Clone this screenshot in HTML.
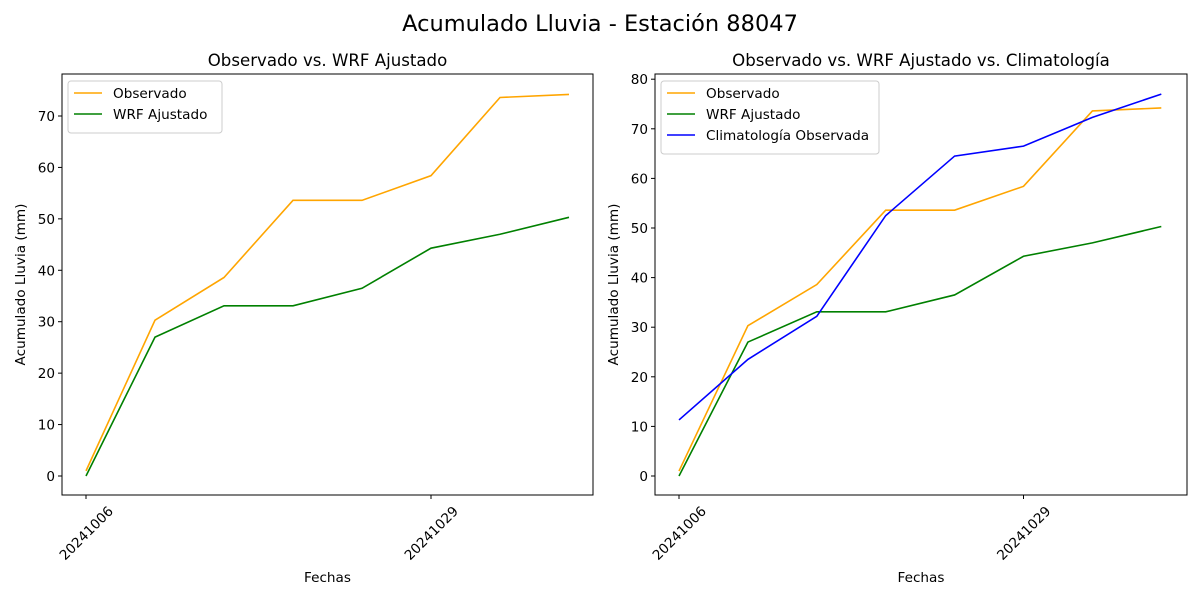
<!DOCTYPE html>
<html><head><meta charset="utf-8"><style>body{margin:0;background:#fff}svg{font-family:"DejaVu Sans","Liberation Sans",sans-serif}</style></head>
<body>
<svg id="s" width="1200" height="600" xmlns="http://www.w3.org/2000/svg"></svg>
<script>
const obs=[1,30.3,38.6,53.6,53.6,58.4,73.6,74.2];
const wrf=[0,27,33.1,33.1,36.5,44.3,47,50.3];
const cli=[11.3,23.5,32.2,52.5,64.5,66.5,72.3,77];
const F=13.6;
let h='<text x="600" y="31" font-size="22.5" text-anchor="middle">Acumulado Lluvia - Estación 88047</text>';
function panel(x0,x1,y0,y1,xs,dx,zeroY,per10,yticks,title,series,legW){
 const X=i=>xs+i*dx, Y=v=>zeroY-v*per10/10;
 h+=`<rect x="${x0}" y="${y0}" width="${x1-x0}" height="${y1-y0}" fill="none" stroke="#000" stroke-width="1"/>`;
 h+=`<text x="${(x0+x1)/2}" y="66" font-size="16.6" text-anchor="middle">${title}</text>`;
 for(const t of yticks){const y=Y(t);h+=`<line x1="${x0-4}" x2="${x0}" y1="${y}" y2="${y}" stroke="#000"/><text x="${x0-7}" y="${y+5}" font-size="${F}" text-anchor="end">${t}</text>`;}
 for(const [i,l] of [[0,'20241006'],[5,'20241029']]){const x=X(i);h+=`<line x1="${x}" x2="${x}" y1="${y1}" y2="${y1+4}" stroke="#000"/><text transform="translate(${x+28},${y1+17}) rotate(-45)" font-size="${F}" text-anchor="end">${l}</text>`;}
 h+=`<text x="${(x0+x1)/2}" y="582" font-size="${F}" text-anchor="middle">Fechas</text>`;
 h+=`<text transform="translate(${x0-37},${(y0+y1)/2}) rotate(-90)" font-size="${F}" text-anchor="middle">Acumulado Lluvia (mm)</text>`;
 for(const [d,c] of series){h+=`<polyline fill="none" stroke="${c}" stroke-width="1.6" points="${d.map((v,i)=>X(i)+','+Y(v)).join(' ')}"/>`;}
 const names=['Observado','WRF Ajustado','Climatología Observada'];
 h+=`<rect x="${x0+6}" y="${y0+7}" width="${legW}" height="${series.length*21+10}" rx="3" fill="#fff" stroke="#ccc"/>`;
 series.forEach(([d,c],k)=>{const y=y0+19+k*21;h+=`<line x1="${x0+12}" x2="${x0+40}" y1="${y}" y2="${y}" stroke="${c}" stroke-width="1.6"/><text x="${x0+51}" y="${y+5}" font-size="${F}">${names[k]}</text>`;});
}
panel(62,593,74,495,86,69,476,51.43,[0,10,20,30,40,50,60,70],'Observado vs. WRF Ajustado',[[obs,'orange'],[wrf,'green']],154);
panel(655,1187,74,495,679,68.9,476,49.6,[0,10,20,30,40,50,60,70,80],'Observado vs. WRF Ajustado vs. Climatología',[[obs,'orange'],[wrf,'green'],[cli,'blue']],218);
document.getElementById('s').innerHTML=h;
</script>
</body></html>
